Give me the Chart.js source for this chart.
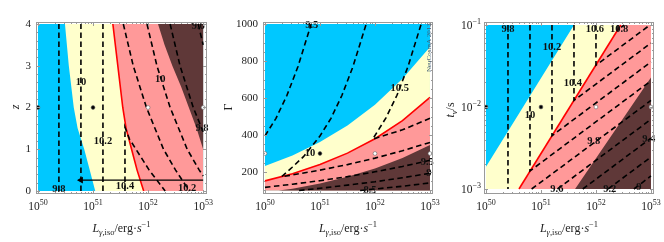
<!DOCTYPE html>
<html>
<head>
<meta charset="utf-8">
<script src="https://cdn.jsdelivr.net/npm/chart.js@4"></script>
<style>
  html, body { margin: 0; padding: 0; background: #fff; }
  #wrap { position: relative; width: 664px; height: 242px; }
  canvas { position: absolute; top: 0; }
</style>
</head>
<body>
<div id="wrap">
  <canvas id="c1" width="220" height="242" style="left:0px"></canvas>
  <canvas id="c2" width="222" height="242" style="left:220px"></canvas>
  <canvas id="c3" width="222" height="242" style="left:442px"></canvas>
</div>
<script>
// all L values are log10(L / erg s^-1); panel 3 times are log10(t_v / s)
const lumDecades = [50, 51, 52, 53];
const zTicks = [0, 1, 2, 3, 4];
const gammaTicks = [200, 400, 600, 800, 1000];
const tvDecades = [-3, -2, -1];

// ---- panel 1: z vs L ----
const zDomain = [[50, 0], [53, 0], [53, 4], [50, 4]];
const zCyanEdge = [[50.49, 4], [50.56, 3], [50.65, 2], [50.72, 1.5], [50.84, 1], [50.94, 0.5], [51.04, 0]];
const zRedLine = [[51.36, 4], [51.45, 3], [51.54, 2], [51.6, 1.5], [51.7, 1], [51.8, 0.5], [51.92, 0]];
const zDarkEdge = [[52.18, 4], [52.3, 3.5], [52.44, 3], [52.6, 2.5], [52.74, 2], [52.88, 1.5], [53, 1]];
const zContours = [
  [[50.38, 0], [50.38, 4]],                                                    // 9.8
  [[50.78, 0], [50.78, 4]],                                                    // 10
  [[51.18, 0], [51.18, 4]],                                                    // 10.2
  [[51.58, 0], [51.58, 1.53], [51.66, 1.25], [51.78, 1], [52.02, 0.5], [52.31, 0]], // 10.4
  [[51.55, 4], [51.73, 3], [51.97, 2], [52.28, 1], [52.5, 0.5], [52.75, 0]],   // 10.2
  [[51.98, 4], [52.16, 3], [52.4, 2], [52.71, 1], [52.93, 0.5], [53, 0.36]],   // 10
  [[52.4, 4], [52.58, 3], [52.82, 2], [53, 1.42]],                             // 9.8
  [[52.91, 4], [53, 3.5]]                                                      // 9.6
];
const zArrow = [[50.78, 0.26], [53, 0.26]];
const zTags = [['9.8', 50.38, 0.03], ['10', 50.78, 2.61], ['10.2', 51.18, 1.2], ['10.4', 51.58, 0.12],
  ['10', 52.22, 2.68], ['9.8', 52.98, 1.51], ['9.6', 52.91, 3.95], ['10.2', 52.71, 0.07]];
const zDots = [[50, 2], [51, 2], [52, 2], [53, 2]];

// ---- panel 2: Gamma vs L ----
const gDomain = [[50, 100], [53, 100], [53, 1000], [50, 1000]];
const gCyanEdge = [[50, 232], [50.5, 289], [51, 362], [51.5, 452], [52, 564], [52.5, 704], [53, 876]];
const gRedLine = [[50, 152], [50.5, 191], [51, 240], [51.5, 302], [52, 380], [52.5, 478], [53, 603]];
const gDarkEdge = [[50.25, 100], [50.5, 110], [51, 138], [51.5, 174], [52, 219], [52.5, 275], [53, 346]];
const gContours = [
  [[50, 395], [50.2, 490], [50.4, 615], [50.6, 770], [50.84, 1000]],                                  // 9.5
  [[53, 360], [52.5, 315], [52, 275], [51.5, 240], [51, 210], [50.3, 174], [50.5, 227], [50.7, 283],
    [51, 395], [51.2, 490], [51.4, 615], [51.6, 770], [51.84, 1000]],                                  // 10
  [[53, 490], [52.5, 428], [51.96, 378], [52.2, 493], [52.4, 615], [52.6, 770], [52.84, 1000]],        // 10.5
  [[50, 117], [50.5, 134], [51, 153], [51.5, 175], [52, 201], [52.5, 230], [53, 263]],                 // 9.5
  [[50.62, 100], [51, 112], [51.5, 129], [52, 147], [52.5, 169], [53, 193]],                           // 9
  [[51.73, 100], [52, 108], [52.5, 123], [53, 141]]                                                    // 8.5
];
const gTags = [['9.5', 50.85, 995], ['10', 50.82, 303], ['10.5', 52.45, 654], ['9.5', 52.95, 254],
  ['9', 52.98, 195], ['8.5', 51.91, 102]];
const gDots = [[50, 300], [51, 300], [52, 300], [53, 300]];

// ---- panel 3: t_v vs L ----
const tDomain = [[50, -3], [53, -3], [53, -1], [50, -1]];
const tCyanEdge = [[50, -2.73], [51.6, -1]];
const tRedLine = [[50.6, -3], [52.45, -1]];
const tDarkEdge = [[51.62, -3], [53, -1.64]];
const tContours = [
  [[50.4, -1], [50.4, -3]],                          // 9.8
  [[50.8, -1], [50.8, -2.78], [53, -1.68]],          // 10
  [[51.2, -1], [51.2, -2.35], [53, -1.45]],          // 10.2
  [[51.6, -1], [51.6, -1.92], [53, -1.22]],          // 10.4
  [[52, -1], [52, -1.49], [52.98, -1]],              // 10.6
  [[52.4, -1], [52.4, -1.06], [52.51, -1]],          // 10.8
  [[50.83, -3], [53, -1.92]],                        // 9.8
  [[51.3, -3], [53, -2.15]],                         // 9.6
  [[51.76, -3], [53, -2.38]],                        // 9.4
  [[52.22, -3], [53, -2.61]],                        // 9.2
  [[52.69, -3], [53, -2.84]]                         // 9
];
const tTags = [['9.8', 50.4, -1.05], ['10', 50.8, -2.1], ['10.2', 51.2, -1.27], ['10.4', 51.58, -1.71],
  ['10.6', 51.98, -1.05], ['10.8', 52.42, -1.05], ['9.8', 51.96, -2.42], ['9.4', 52.96, -2.39],
  ['9.6', 51.29, -3.0], ['9.2', 52.25, -3.0], ['9', 52.78, -2.98]];
const tDots = [[50, -2], [51, -2], [52, -2], [53, -2]];

const CYAN = '#00c8ff', YELLOW = '#ffffcc', PINK = '#ff9999', DARK = '#5f3838';
const SERIF = '"Liberation Serif", "DejaVu Serif", serif';

const toPts = (pairs, logY) => pairs.map(([l, v]) => ({ x: Math.pow(10, l), y: logY ? Math.pow(10, v) : v }));

function region(pairs, color, order, logY) {
  return { data: toPts(pairs, logY), backgroundColor: color, borderColor: 'transparent', borderWidth: 0,
    fill: 'shape', pointRadius: 0, order };
}
function dashed(pairs, logY) {
  return { data: toPts(pairs, logY), borderColor: '#000', borderWidth: 1.6, borderDash: [5.5, 3.5],
    fill: false, pointRadius: 0, order: 0 };
}
function redLine(pairs, logY) {
  return { data: toPts(pairs, logY), borderColor: '#ff0000', borderWidth: 1.6, fill: false, pointRadius: 0, order: 0 };
}
function dots(pairs, logY, colors) {
  return { data: toPts(pairs, logY), showLine: false, pointRadius: 1.9, pointBackgroundColor: colors,
    pointBorderColor: '#666', pointBorderWidth: 0.6, order: -1 };
}

function rich(ctx, parts, cx, cy) {
  let w = 0;
  parts.forEach(p => { ctx.font = p[1]; w += ctx.measureText(p[0]).width; });
  let xx = cx - w / 2;
  ctx.textAlign = 'left';
  ctx.textBaseline = 'alphabetic';
  parts.forEach(p => { ctx.font = p[1]; ctx.fillText(p[0], xx, cy + (p[2] || 0)); xx += ctx.measureText(p[0]).width; });
}

function sciLabel(ctx, exp, px, py, align) {
  const sup = String(exp).replace('-', '\u2212');
  ctx.font = '11.5px ' + SERIF; const wb = ctx.measureText('10').width;
  ctx.font = '8px ' + SERIF; const ws = ctx.measureText(sup).width;
  const x0 = align === 'center' ? px - (wb + ws) / 2 : px - (wb + ws);
  ctx.textAlign = 'left';
  ctx.textBaseline = 'alphabetic';
  ctx.font = '11.5px ' + SERIF; ctx.fillText('10', x0, py);
  ctx.font = '8px ' + SERIF; ctx.fillText(sup, x0 + wb, py - 5);
}

const xTitle = [['L', 'italic 12px ' + SERIF], ['\u03b3', 'italic 8.5px ' + SERIF, 3], [',iso', '8.5px ' + SERIF, 3],
  ['/erg\u00b7', '12px ' + SERIF], ['s', 'italic 12px ' + SERIF], ['\u22121', '8.5px ' + SERIF, -5]];

function framePlugin(cfg) {
  return {
    id: 'frame_' + cfg.id,
    afterDatasetsDraw(chart) {
      const { ctx, chartArea: a, scales: { x, y } } = chart;
      const yv = v => y.getPixelForValue(cfg.logY ? Math.pow(10, v) : v);
      const xv = l => x.getPixelForValue(Math.pow(10, l));
      ctx.save();

      // contour labels
      ctx.fillStyle = '#111';
      ctx.font = 'bold 10.5px ' + SERIF;
      ctx.textAlign = 'center';
      ctx.textBaseline = 'middle';
      cfg.tags.forEach(([t, l, v]) => ctx.fillText(t, xv(l), yv(v)));

      // frame and ticks
      ctx.strokeStyle = '#9a9a9a';
      ctx.lineWidth = 1;
      ctx.strokeRect(a.left + 0.5, a.top + 0.5, a.width - 1, a.height - 1);
      ctx.beginPath();
      const xt = (px, len) => {
        px = Math.round(px) + 0.5;
        ctx.moveTo(px, a.bottom); ctx.lineTo(px, a.bottom - len);
        ctx.moveTo(px, a.top); ctx.lineTo(px, a.top + len);
      };
      const yt = (py, len) => {
        py = Math.round(py) + 0.5;
        ctx.moveTo(a.left, py); ctx.lineTo(a.left + len, py);
        ctx.moveTo(a.right, py); ctx.lineTo(a.right - len, py);
      };
      lumDecades.forEach(l => xt(xv(l), 4));
      for (let n = 50; n < 53; n++) for (let k = 2; k < 10; k++) xt(xv(n + Math.log10(k)), 2);
      cfg.yMajor.forEach(v => yt(yv(v), 4));
      cfg.yMinor.forEach(v => yt(yv(v), 2));
      ctx.stroke();

      // tick labels
      ctx.fillStyle = '#222';
      lumDecades.forEach(l => sciLabel(ctx, l, xv(l), 210, 'center'));
      if (cfg.logY) {
        cfg.yMajor.forEach(v => sciLabel(ctx, v, a.left - 3, yv(v) + 4, 'right'));
      } else {
        ctx.font = '11px ' + SERIF;
        ctx.textAlign = 'right';
        ctx.textBaseline = 'middle';
        cfg.yMajor.forEach(v => ctx.fillText(String(v), a.left - 5, yv(v)));
      }

      // axis titles
      rich(ctx, xTitle, (a.left + a.right) / 2, 232);
      ctx.translate(cfg.yTitleX, cfg.yTitleY);
      ctx.rotate(-Math.PI / 2);
      rich(ctx, cfg.yTitle, 0, 4);
      ctx.restore();

      if (cfg.mark) {
        ctx.save();
        ctx.translate(a.right - 4, yv(cfg.mark.v));
        ctx.rotate(-Math.PI / 2);
        ctx.fillStyle = '#3d5a75';
        ctx.font = '7px ' + SERIF;
        ctx.textAlign = 'left';
        ctx.textBaseline = 'middle';
        ctx.fillText(cfg.mark.text, 0, 0);
        ctx.restore();
      }
    }
  };
}

function makePanel(cfg) {
  return new Chart(document.getElementById(cfg.id), {
    type: 'line',
    data: { datasets: cfg.datasets },
    options: {
      responsive: false,
      animation: false,
      devicePixelRatio: 1,
      layout: { padding: cfg.pad },
      plugins: { legend: { display: false }, tooltip: { enabled: false } },
      scales: {
        x: { type: 'logarithmic', display: false, bounds: 'data', min: Math.pow(10, 49.964), max: Math.pow(10, cfg.xMaxExp) },
        y: { type: cfg.logY ? 'logarithmic' : 'linear', display: false, bounds: 'data', min: cfg.yMin, max: cfg.yMax }
      }
    },
    plugins: [framePlugin(cfg)]
  });
}

// panel 1
makePanel({
  id: 'c1', pad: { left: 36, right: 13, top: 22, bottom: 48 }, xMaxExp: 53.07,
  yMin: -0.072, yMax: 4.048, logY: false,
  yMajor: zTicks, yMinor: [0.2, 0.4, 0.6, 0.8, 1.2, 1.4, 1.6, 1.8, 2.2, 2.4, 2.6, 2.8, 3.2, 3.4, 3.6, 3.8],
  yTitle: [['z', 'italic 12px ' + SERIF]], yTitleX: 15, yTitleY: 107,
  tags: zTags,
  datasets: [
    dots(zDots, false, ['#000', '#000', '#fff', '#fff']),
    { data: toPts(zArrow, false), borderColor: '#000', borderWidth: 1.3, fill: false, order: 0,
      pointStyle: 'triangle', pointRadius: [2.6, 0], rotation: [-90, 0], pointBackgroundColor: '#000', pointBorderColor: '#000' },
    ...zContours.map(c => dashed(c, false)),
    redLine(zRedLine, false),
    region(zDarkEdge.concat([[53, 4]]), DARK, 1, false),
    region(zRedLine.concat([[53, 0], [53, 4]]), PINK, 2, false),
    region(zCyanEdge.concat([[53, 0], [53, 4]]), YELLOW, 3, false),
    region(zDomain, CYAN, 4, false)
  ]
});

// panel 2
makePanel({
  id: 'c2', pad: { left: 43, right: 9, top: 22, bottom: 48 }, xMaxExp: 53.055,
  yMin: 81, yMax: 1011, logY: false,
  yMajor: gammaTicks, yMinor: [100, 150, 250, 300, 350, 450, 500, 550, 650, 700, 750, 850, 900, 950],
  yTitle: [['\u0393', '12px ' + SERIF]], yTitleX: 8, yTitleY: 107,
  tags: gTags,
  mark: { text: 'NeuCosmA 2013', v: 740 },
  datasets: [
    dots(gDots, false, ['#fff', '#000', '#fff', '#fff']),
    ...gContours.map(c => dashed(c, false)),
    redLine(gRedLine, false),
    region(gDarkEdge.concat([[53, 100]]), DARK, 1, false),
    region([[50, 100]].concat(gRedLine, [[53, 100]]), PINK, 2, false),
    region([[50, 100]].concat(gCyanEdge, [[53, 100]]), YELLOW, 3, false),
    region(gDomain, CYAN, 4, false)
  ]
});

// panel 3
makePanel({
  id: 'c3', pad: { left: 42, right: 10, top: 22, bottom: 48 }, xMaxExp: 53.055,
  yMin: Math.pow(10, -3.061), yMax: Math.pow(10, -0.963), logY: true,
  yMajor: tvDecades, yMinor: [2, 3, 4, 5, 6, 7, 8, 9].flatMap(k => [-3 + Math.log10(k), -2 + Math.log10(k)]),
  yTitle: [['t', 'italic 12px ' + SERIF], ['v', 'italic 8.5px ' + SERIF, 3], ['/s', '12px ' + SERIF]], yTitleX: 8, yTitleY: 110,
  tags: tTags,
  datasets: [
    dots(tDots, true, ['#000', '#000', '#fff', '#fff']),
    ...tContours.map(c => dashed(c, true)),
    redLine(tRedLine, true),
    region(tDarkEdge.concat([[53, -3]]), DARK, 1, true),
    region(tRedLine.concat([[53, -1], [53, -3]]), PINK, 2, true),
    region([[50, -3]].concat(tCyanEdge, [[53, -1], [53, -3]]), YELLOW, 3, true),
    region(tDomain, CYAN, 4, true)
  ]
});
</script>
</body>
</html>
